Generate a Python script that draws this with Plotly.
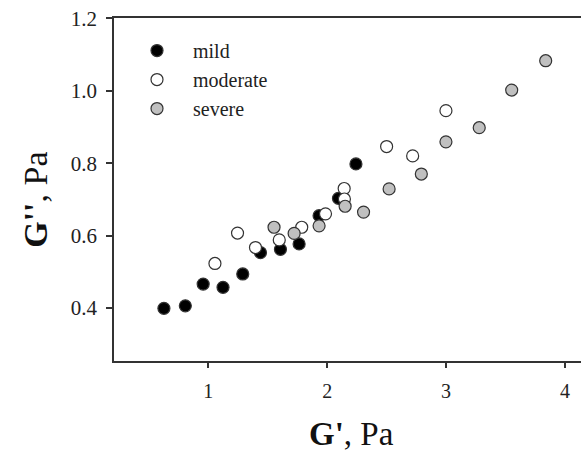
import plotly.graph_objects as go

# G' (x) and G'' (y) values, Pa
mild_x = [0.627, 0.807, 0.957, 1.124, 1.290, 1.439, 1.607, 1.764, 1.932, 2.095, 2.242]
mild_y = [0.399, 0.406, 0.466, 0.457, 0.494, 0.553, 0.562, 0.577, 0.655, 0.703, 0.798]

moderate_x = [1.056, 1.246, 1.397, 1.597, 1.786, 1.986, 2.143, 2.145, 2.500, 2.719, 2.999]
moderate_y = [0.523, 0.607, 0.567, 0.588, 0.623, 0.660, 0.730, 0.701, 0.846, 0.820, 0.945]

severe_x = [1.553, 1.722, 1.932, 2.151, 2.306, 2.521, 2.792, 2.999, 3.279, 3.552, 3.838]
severe_y = [0.623, 0.606, 0.627, 0.681, 0.665, 0.729, 0.770, 0.859, 0.898, 1.002, 1.083]

x_ticks = [1, 2, 3, 4]
y_ticks = [0.4, 0.6, 0.8, 1.0, 1.2]

FONT = "Liberation Serif, Times New Roman, serif"
EDGE = "#333333"
TXT = "#222222"

fig = go.Figure()
series = [
    ("mild", mild_x, mild_y, "#000000"),
    ("moderate", moderate_x, moderate_y, "#ffffff"),
    ("severe", severe_x, severe_y, "#c0c0c0"),
]
for name, xs, ys, fill in series:
    fig.add_trace(go.Scatter(
        x=xs, y=ys, mode="markers", name=name,
        marker=dict(size=12, color=fill, line=dict(color=EDGE, width=1.2)),
    ))

fig.update_layout(
    width=581, height=454,
    margin=dict(l=114, r=0, t=18, b=93),
    paper_bgcolor="white", plot_bgcolor="white",
    font=dict(family=FONT, size=20, color=TXT),
    showlegend=True,
    legend=dict(x=0.015, y=0.962, xanchor="left", yanchor="top", itemwidth=62,
                bgcolor="rgba(0,0,0,0)", font=dict(family=FONT, size=20, color=TXT)),
    xaxis=dict(range=[0.207, 4.135], tickvals=x_ticks, showgrid=False, zeroline=False,
               showline=True, linecolor=EDGE, linewidth=1.5, mirror=True,
               ticks="outside", ticklen=5, tickcolor=EDGE, tickwidth=1.5,
               ticklabelstandoff=6,
               tickfont=dict(family=FONT, size=20, color=TXT)),
    yaxis=dict(range=[0.2536, 1.201], tickvals=y_ticks, tickformat=".1f", showgrid=False,
               zeroline=False, showline=True, linecolor=EDGE, linewidth=1.5,
               ticks="outside", ticklen=6, tickcolor=EDGE, tickwidth=1.5,
               ticklabelstandoff=5,
               tickfont=dict(family=FONT, size=21, color=TXT)),
    annotations=[
        dict(text="<b>G'</b>, Pa", xref="paper", yref="paper", x=0.509, y=-0.212,
             xanchor="center", yanchor="middle", showarrow=False,
             font=dict(family=FONT, size=33, color="#111111")),
        dict(text="<b>G''</b>, Pa", xref="paper", yref="paper", x=-0.167, y=0.47,
             xanchor="center", yanchor="middle", showarrow=False, textangle=-90,
             font=dict(family=FONT, size=34, color="#111111")),
    ],
)

fig.write_html("out.html", config={"displayModeBar": False},
               post_script="document.body.style.margin='0';")
